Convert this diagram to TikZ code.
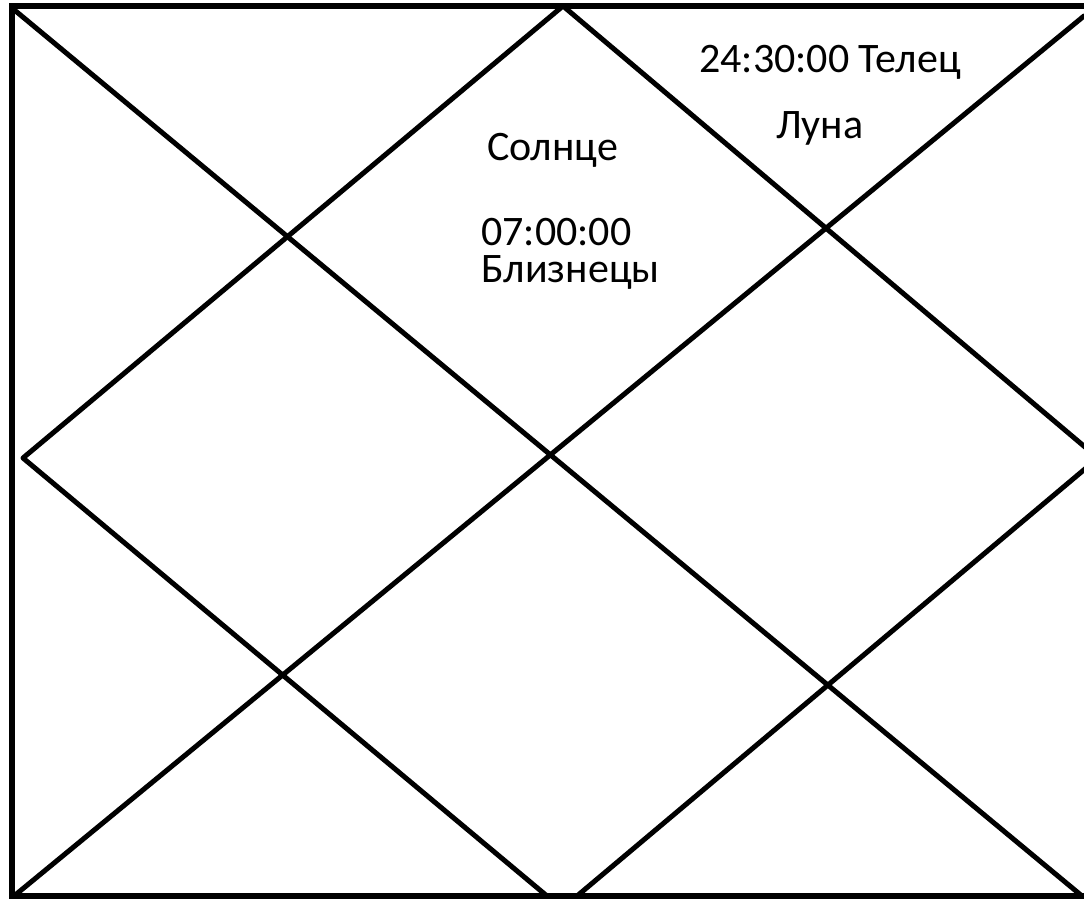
\documentclass[tikz,border=0pt]{standalone}
\usepackage{fontspec}
\setmainfont{Carlito}

\begin{document}
\begin{tikzpicture}[x=1pt, y=-1pt,
  frameline/.style={draw=black, line width=6pt, line cap=round},
  chartline/.style={draw=black, line width=5pt, line cap=round, line join=round},
  planet/.style={anchor=base west, inner sep=0pt, font=\fontsize{42}{37}\selectfont}]

  \useasboundingbox (0,0) rectangle (1084,899);
  \clip (0,0) rectangle (1084,899);

  % ===== Marco =====
  \coordinate (tl) at (12,6);
  \coordinate (tr) at (1090,6);
  \coordinate (bl) at (12,896);
  \coordinate (br) at (1090,896);
  \draw[frameline] (tr) -- (tl) -- (bl) -- (br);

  % ===== Diagonales =====
  \coordinate (dtl) at (12,8);
  \coordinate (dbr) at (1082,896);
  \coordinate (dbl) at (14,896);
  \coordinate (dtr) at (1084,16);
  \draw[chartline] (dtl) -- (dbr);
  \draw[chartline] (dbl) -- (dtr);

  % ===== Rombo =====
  \coordinate (top) at (563,6);
  \coordinate (left) at (23,458);
  \coordinate (right) at (1098,458);
  \coordinate (botl) at (547,896);
  \coordinate (botr) at (577,896);
  \draw[chartline] (botl) -- (left) -- (top) -- (right) -- (botr);

  % ===== Textos =====
  \node[planet] (sun) at (487,160) {Солнце};
  \node[planet, align=left] (sunpos) at (481,282) {07:00:00\\Близнецы};
  \node[planet] (moondeg) at (699,72) {24:30:00 Телец};
  \node[planet] (moon) at (776,138) {Луна};
\end{tikzpicture}
\end{document}
